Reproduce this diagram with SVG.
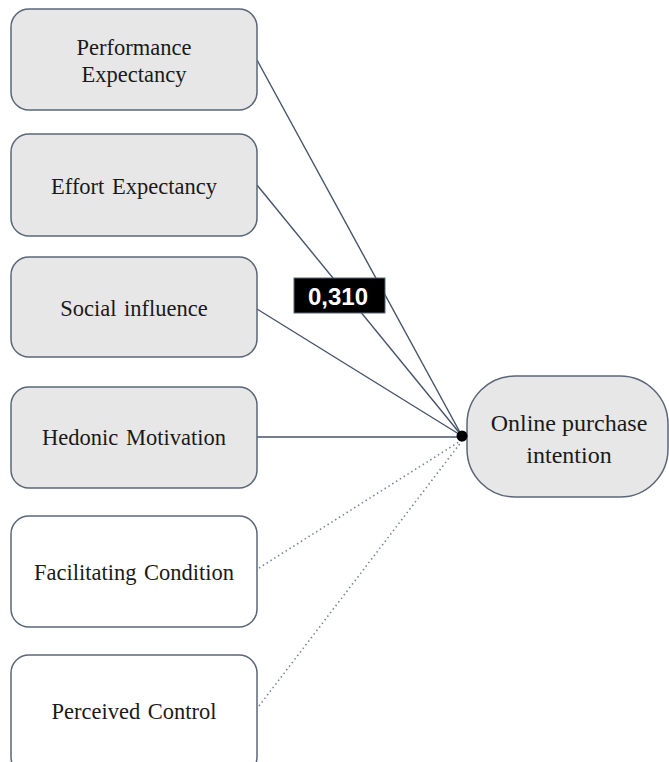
<svg xmlns="http://www.w3.org/2000/svg" width="669" height="762" viewBox="0 0 669 762">
<style>
.box{fill:#e7e7e7;stroke:#5b6779;stroke-width:1.5}
.wbox{fill:#ffffff;stroke:#5b6779;stroke-width:1.5}
.t{font-family:"Liberation Serif","Times New Roman",serif;font-size:22.5px;fill:#1a1a1a;text-anchor:middle;word-spacing:2px}
.ln{stroke:#44546a;stroke-width:1.4;fill:none}
.dl{stroke:#7a8699;stroke-width:1.6;fill:none;stroke-dasharray:1.5 3}
</style>
<rect width="669" height="762" fill="#ffffff"/>
<g id="connectors">
<line class="ln" x1="257" y1="60" x2="462" y2="436"/>
<line class="ln" x1="257" y1="185" x2="462" y2="436"/>
<line class="ln" x1="257" y1="309" x2="462" y2="436"/>
<line class="ln" x1="257" y1="437" x2="462" y2="437"/>
<line class="dl" x1="259" y1="568" x2="462" y2="440"/>
<line class="dl" x1="259" y1="706" x2="462" y2="441"/>
</g>
<g id="n1"><rect class="box" x="11" y="9" width="246" height="101" rx="18"/><text class="t" x="134" y="55">Performance</text><text class="t" x="134" y="82">Expectancy</text></g>
<g id="n2"><rect class="box" x="11" y="134" width="246" height="102" rx="18"/><text class="t" x="134" y="194">Effort Expectancy</text></g>
<g id="n3"><rect class="box" x="11" y="257" width="246" height="100" rx="18"/><text class="t" x="134" y="316">Social influence</text></g>
<g id="n4"><rect class="box" x="11" y="387" width="246" height="101" rx="18"/><text class="t" x="134" y="445">Hedonic Motivation</text></g>
<g id="n5"><rect class="wbox" x="11" y="516" width="246" height="111" rx="18"/><text class="t" x="134" y="580">Facilitating Condition</text></g>
<g id="n6"><rect class="wbox" x="11" y="655" width="246" height="120" rx="18"/><text class="t" x="134" y="719">Perceived Control</text></g>
<g id="n7"><rect class="box" x="467" y="376" width="201" height="121" rx="48"/><text class="t" x="569" y="431" style="font-size:24px;word-spacing:0">Online purchase</text><text class="t" x="569" y="463" style="font-size:24px">intention</text></g>
<g id="dot"><circle cx="462" cy="436" r="5.5" fill="#000000"/></g>
<g id="label"><rect x="294" y="278" width="91" height="35" fill="#000000" stroke="#5b6779" stroke-width="1"/><text x="338" y="305" style="font-family:'Liberation Sans',Arial,sans-serif;font-size:24px;font-weight:bold;fill:#ffffff;text-anchor:middle">0,310</text></g>
</svg>
